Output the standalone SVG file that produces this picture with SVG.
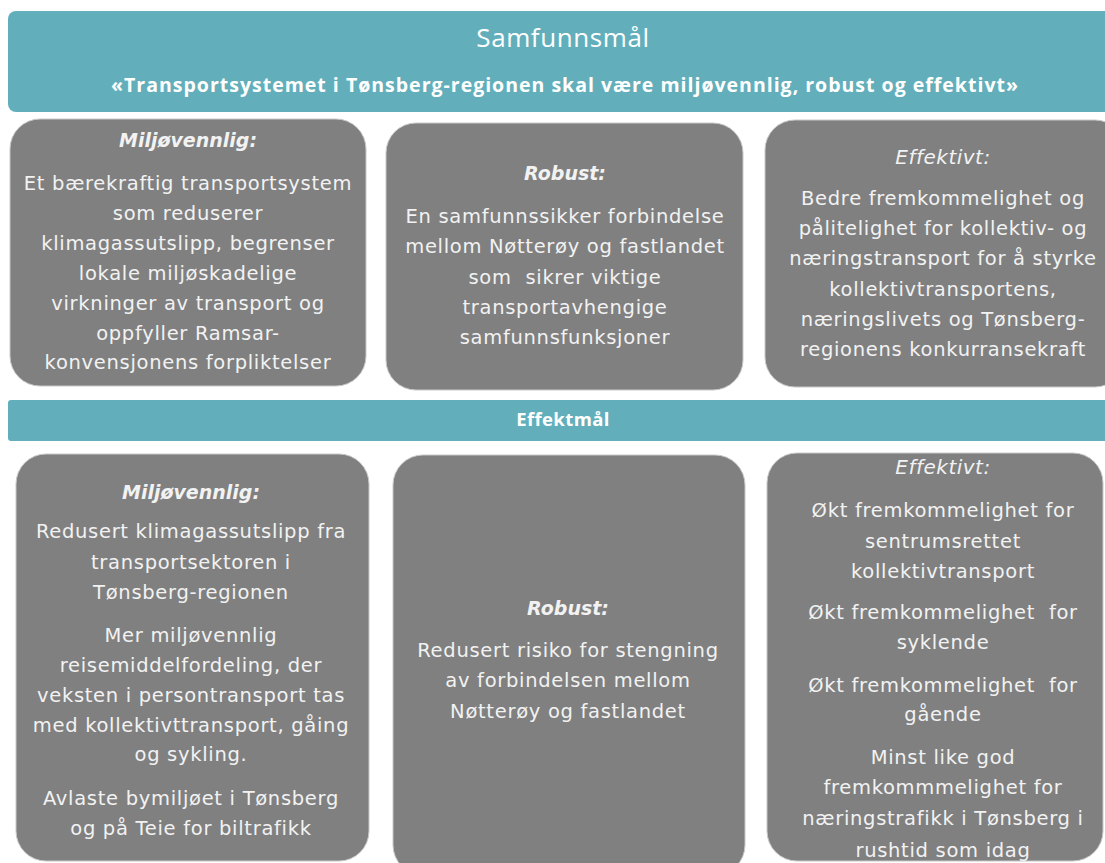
<svg xmlns="http://www.w3.org/2000/svg" width="1105" height="863" viewBox="0 0 1105 863">
<style>
.banner{fill:#62afbb}
.box{fill:#808080;stroke:#c8c8c8;stroke-width:1}
.t{font-family:"DejaVu Sans",sans-serif;font-size:19.5px;letter-spacing:0.7px;fill:#f2f2f2;text-anchor:middle}
.h{font-family:"DejaVu Sans",sans-serif;font-size:19px;fill:#f2f2f2;text-anchor:middle;font-style:italic;font-weight:bold}
.hl{font-family:"DejaVu Sans",sans-serif;font-size:20px;letter-spacing:0.5px;fill:#f2f2f2;text-anchor:middle;font-style:italic}
.bt{font-family:"Open Sans",sans-serif;fill:#ffffff;text-anchor:middle}
</style>
<rect width="1105" height="863" fill="#ffffff"/>
<g id="samfunnsmal">
<rect class="banner" x="8" y="11" width="1110" height="101" rx="8"/>
<text class="bt" x="563" y="47" font-size="26" letter-spacing="0.6">Samfunnsmål</text>
<text class="bt" x="565" y="92" font-size="19.5" letter-spacing="1" font-weight="bold">«Transportsystemet i Tønsberg-regionen skal være miljøvennlig, robust og effektivt»</text>
</g>
<g id="s-miljo">
<rect class="box" x="10" y="119" width="356" height="267" rx="30"/>
<text class="h" x="188" y="147">Miljøvennlig:</text>
<text class="t" x="188" y="190">Et bærekraftig transportsystem</text>
<text class="t" x="188" y="220">som reduserer</text>
<text class="t" x="188" y="250">klimagassutslipp, begrenser</text>
<text class="t" x="188" y="280">lokale miljøskadelige</text>
<text class="t" x="188" y="310">virkninger av transport og</text>
<text class="t" x="188" y="340">oppfyller Ramsar-</text>
<text class="t" x="188" y="369">konvensjonens forpliktelser</text>
</g>
<g id="s-robust">
<rect class="box" x="386" y="123" width="357" height="267" rx="30"/>
<text class="h" x="565" y="180">Robust:</text>
<text class="t" x="565" y="223">En samfunnssikker forbindelse</text>
<text class="t" x="565" y="253">mellom Nøtterøy og fastlandet</text>
<text class="t" x="565" y="284" xml:space="preserve">som  sikrer viktige</text>
<text class="t" x="565" y="314">transportavhengige</text>
<text class="t" x="565" y="344">samfunnsfunksjoner</text>
</g>
<g id="s-effektiv">
<rect class="box" x="765" y="120" width="360" height="267" rx="30"/>
<text class="hl" x="943" y="164">Effektivt:</text>
<text class="t" x="943" y="205">Bedre fremkommelighet og</text>
<text class="t" x="943" y="235">pålitelighet for kollektiv- og</text>
<text class="t" x="943" y="265">næringstransport for å styrke</text>
<text class="t" x="943" y="296">kollektivtransportens,</text>
<text class="t" x="943" y="326">næringslivets og Tønsberg-</text>
<text class="t" x="943" y="356">regionens konkurransekraft</text>
</g>
<g id="effektmal">
<rect class="banner" x="8" y="400" width="1110" height="41" rx="3"/>
<text class="bt" x="563" y="426" font-size="18.5" letter-spacing="0.4" font-weight="bold">Effektmål</text>
</g>
<g id="e-miljo">
<rect class="box" x="16" y="454" width="353" height="407" rx="30"/>
<text class="h" x="191" y="499">Miljøvennlig:</text>
<text class="t" x="191" y="538">Redusert klimagassutslipp fra</text>
<text class="t" x="191" y="569">transportsektoren i</text>
<text class="t" x="191" y="599">Tønsberg-regionen</text>
<text class="t" x="191" y="642">Mer miljøvennlig</text>
<text class="t" x="191" y="672">reisemiddelfordeling, der</text>
<text class="t" x="191" y="702">veksten i persontransport tas</text>
<text class="t" x="191" y="732">med kollektivttransport, gåing</text>
<text class="t" x="191" y="761">og sykling.</text>
<text class="t" x="191" y="805">Avlaste bymiljøet i Tønsberg</text>
<text class="t" x="191" y="835">og på Teie for biltrafikk</text>
</g>
<g id="e-robust">
<rect class="box" x="393" y="455" width="352" height="420" rx="30"/>
<text class="h" x="568" y="615">Robust:</text>
<text class="t" x="568" y="657">Redusert risiko for stengning</text>
<text class="t" x="568" y="687">av forbindelsen mellom</text>
<text class="t" x="568" y="718">Nøtterøy og fastlandet</text>
</g>
<g id="e-effektiv">
<rect class="box" x="767" y="453" width="336" height="408" rx="30"/>
<text class="hl" x="943" y="474">Effektivt:</text>
<text class="t" x="943" y="517">Økt fremkommelighet for</text>
<text class="t" x="943" y="548">sentrumsrettet</text>
<text class="t" x="943" y="578">kollektivtransport</text>
<text class="t" x="943" y="619" xml:space="preserve">Økt fremkommelighet  for</text>
<text class="t" x="943" y="649">syklende</text>
<text class="t" x="943" y="692" xml:space="preserve">Økt fremkommelighet  for</text>
<text class="t" x="943" y="721">gående</text>
<text class="t" x="943" y="764">Minst like god</text>
<text class="t" x="943" y="794">fremkommmelighet for</text>
<text class="t" x="943" y="825">næringstrafikk i Tønsberg i</text>
<text class="t" x="943" y="857">rushtid som idag</text>
</g>
<g id="connectors"></g>
</svg>
